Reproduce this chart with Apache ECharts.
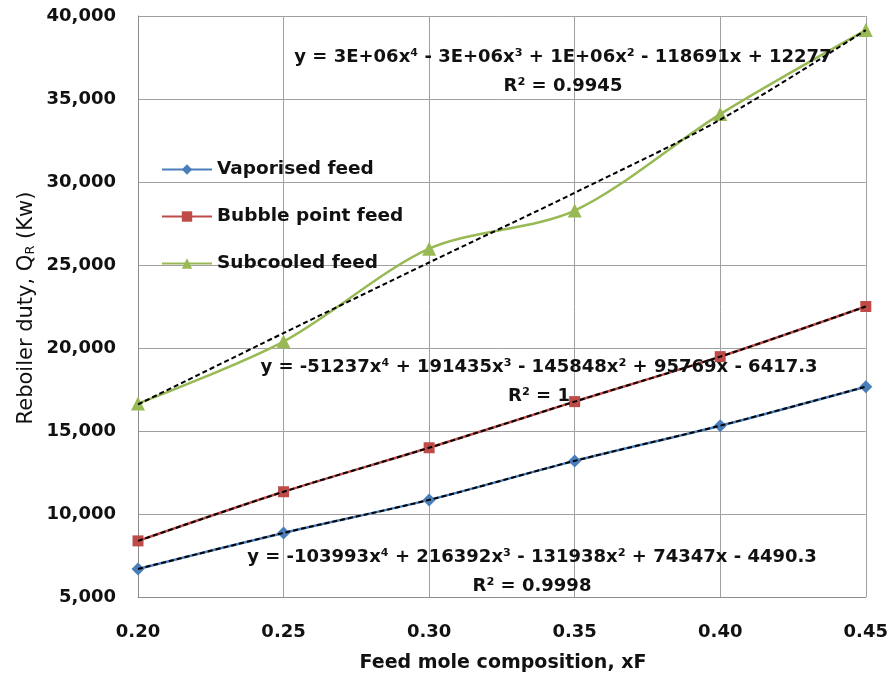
<!DOCTYPE html>
<html><head><meta charset="utf-8">
<script src="https://cdn.jsdelivr.net/npm/echarts@6/dist/echarts.min.js"></script>
<style>html,body{margin:0;padding:0;background:#fff}#c{width:891px;height:679px}</style>
</head><body><div id="c"></div>
<script>
const xF = [0.20, 0.25, 0.30, 0.35, 0.40, 0.45];
const vaporised = [6690, 8860, 10850, 13200, 15320, 17670];
const bubble = [8380, 11340, 13990, 16770, 19480, 22500];
const subcooled = [16650, 20390, 25980, 28280, 34090, 39150];
const vaporisedTrend = [6690, 8860, 10850, 13200, 15320, 17670];
const bubbleTrend = [8380, 11340, 13990, 16770, 19480, 22500];
const subcooledTrend = [16600, 20900, 25150, 29350, 33750, 39150];
const seriesNames = ['Vaporised feed', 'Bubble point feed', 'Subcooled feed'];
const eqSub = ['y = 3E+06x⁴ - 3E+06x³ + 1E+06x² - 118691x + 12277', 'R² = 0.9945'];
const eqBub = ['y = -51237x⁴ + 191435x³ - 145848x² + 95769x - 6417.3', 'R² = 1'];
const eqVap = ['y = -103993x⁴ + 216392x³ - 131938x² + 74347x - 4490.3', 'R² = 0.9998'];

const pairs = (ys) => xF.map((x, i) => [x, ys[i]]);
const FONT = 'DejaVu Sans';
const colors = ['#4A7EBB', '#BE4B48', '#98B954'];
const markers = ['diamond', 'rect', 'triangle'];
const sizes = [13, 11, 14];

const chart = echarts.init(document.getElementById('c'), null, {renderer: 'canvas'});
const series = [];
[vaporised, bubble, subcooled].forEach((d, i) => {
  series.push({
    name: seriesNames[i], type: 'line', data: pairs(d), smooth: 0.3,
    symbol: markers[i], symbolSize: sizes[i], showSymbol: true,
    lineStyle: {color: colors[i], width: 2.5}, itemStyle: {color: colors[i]},
    z: 2, animation: false
  });
});
[vaporisedTrend, bubbleTrend, subcooledTrend].forEach((d, i) => {
  series.push({
    name: 'trend' + i, type: 'line', data: pairs(d), smooth: 0.3,
    symbol: 'none', lineStyle: {color: '#000', width: 2, type: [5, 3]},
    z: 3, animation: false, silent: true
  });
});

const eqText = (lines, cx, cy) => lines.map((t, k) => ({
  type: 'text', x: cx, y: cy + k * 29, z: 10,
  style: {text: t, font: 'bold 18px "' + FONT + '"', fill: '#111', align: 'center', verticalAlign: 'middle'}
}));

chart.setOption({
  animation: false,
  grid: {left: 138, right: 24, top: 16, bottom: 82},
  xAxis: {
    type: 'value', min: 0.2, max: 0.45, interval: 0.05,
    axisLine: {lineStyle: {color: '#8c8c8c', width: 1}},
    axisTick: {show: false},
    splitLine: {lineStyle: {color: '#a0a0a0', width: 1}},
    axisLabel: {formatter: v => v.toFixed(2), fontFamily: FONT, fontWeight: 'bold', fontSize: 18, color: '#111', margin: 26}
  },
  yAxis: {
    type: 'value', min: 5000, max: 40000, interval: 5000,
    axisLine: {show: true, lineStyle: {color: '#8c8c8c', width: 1}},
    axisTick: {show: false},
    splitLine: {lineStyle: {color: '#a0a0a0', width: 1}},
    axisLabel: {formatter: v => v.toLocaleString('en-US'), fontFamily: FONT, fontWeight: 'bold', fontSize: 18, color: '#111', margin: 22}
  },
  legend: {
    data: seriesNames, orient: 'vertical', left: 156, top: 155, itemGap: 28,
    itemWidth: 50, itemHeight: 13,
    textStyle: {fontFamily: FONT, fontWeight: 'bold', fontSize: 18.5, color: '#111'},
    backgroundColor: 'transparent'
  },
  graphic: [
    ...eqText(eqSub, 563, 57),
    ...eqText(eqBub, 539, 367),
    ...eqText(eqVap, 532, 557),
    {type: 'text', x: 503, y: 663, style: {text: 'Feed mole composition, xF', font: 'bold 19px "' + FONT + '"', fill: '#111', align: 'center', verticalAlign: 'middle'}},
    {type: 'text', x: 27, y: 308, rotation: Math.PI / 2,
     style: {text: '{n|Reboiler duty, Q}{s|R}{n| (Kw)}', align: 'center', verticalAlign: 'middle',
       rich: {n: {font: '21px "' + FONT + '"', fill: '#111'}, s: {font: '13px "' + FONT + '"', fill: '#111', padding: [7, 0, 0, 0]}}}}
  ],
  series: series
});
</script></body></html>
